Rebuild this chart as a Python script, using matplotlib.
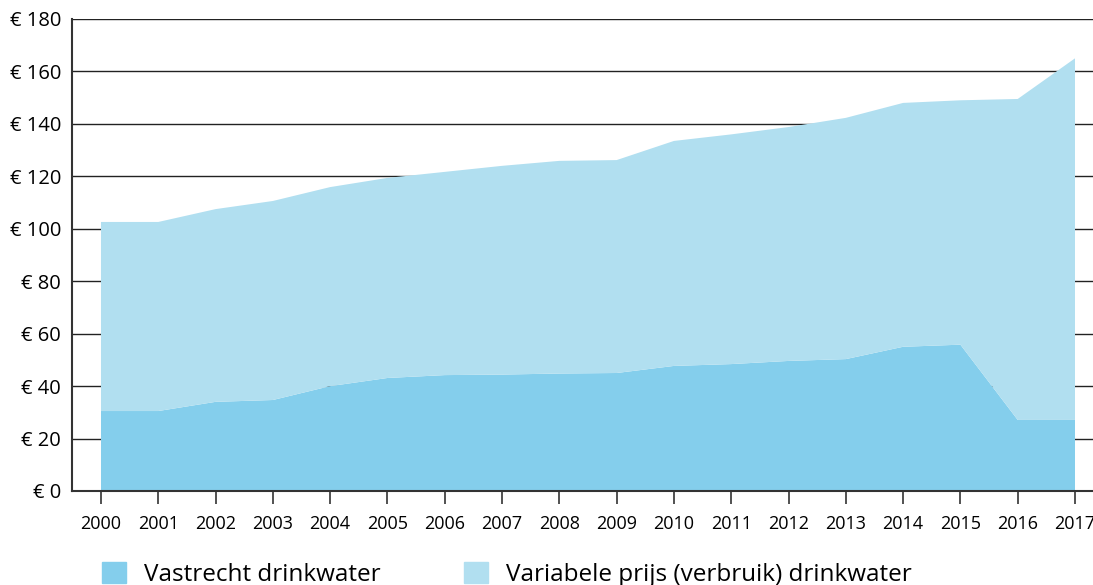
import matplotlib.pyplot as plt
from matplotlib.patches import Patch

jaren = list(range(2000, 2018))
vastrecht = [30.5, 30.5, 34.0, 34.7, 40.0, 43.1, 44.2, 44.4, 44.8, 45.0,
             47.7, 48.4, 49.6, 50.3, 55.0, 55.8, 27.1, 27.1]
totaal = [102.6, 102.6, 107.5, 110.6, 115.9, 119.4, 121.7, 124.0, 125.9, 126.2,
          133.5, 136.0, 138.8, 142.3, 148.0, 149.0, 149.5, 165.0]
variabel = [t - v for t, v in zip(totaal, vastrecht)]
labels = ['Vastrecht drinkwater', 'Variabele prijs (verbruik) drinkwater']
kleuren = ['#84ceec', '#b1dff0']

plt.rcParams['font.family'] = ['Open Sans', 'DejaVu Sans']

fig = plt.figure(figsize=(10.93, 5.85), dpi=100)
ax = fig.add_axes([72/1093, 94/585, 1021/1093, 472/585])

ax.stackplot(jaren, vastrecht, variabel, colors=kleuren, linewidth=0, zorder=2)

# rasterlijnen achter de vlakken
for y in range(20, 181, 20):
    ax.axhline(y, color='#222222', linewidth=1, zorder=1)

ax.set_ylim(0, 180)
ax.set_xlim(2000 - 29/57.3, 2017 + 18/57.3)
ax.set_yticks(range(0, 181, 20))
ax.set_yticklabels(['€ ' + str(v) for v in range(0, 181, 20)], fontsize=14.5)
ax.set_xticks(jaren)
ax.set_xticklabels([str(j) for j in jaren], fontsize=13)
ax.tick_params(axis='y', length=0, pad=8)
ax.tick_params(axis='x', direction='out', length=9, width=1.2, color='#333333', pad=8)

for s in ['top', 'right']:
    ax.spines[s].set_visible(False)
for s in ['left', 'bottom']:
    ax.spines[s].set_color('#333333')
    ax.spines[s].set_linewidth(1.5)
    ax.spines[s].set_zorder(3)

handles = [Patch(color=c) for c in kleuren]
fig.legend(handles, labels, loc='upper left', bbox_to_anchor=(92/1093, 1 - 552/585),
           ncol=2, frameon=False, fontsize=17.5, handlelength=1.0, handleheight=1.0,
           columnspacing=3.4, handletextpad=0.75, borderaxespad=0)

fig.savefig('out.png', dpi=100)
